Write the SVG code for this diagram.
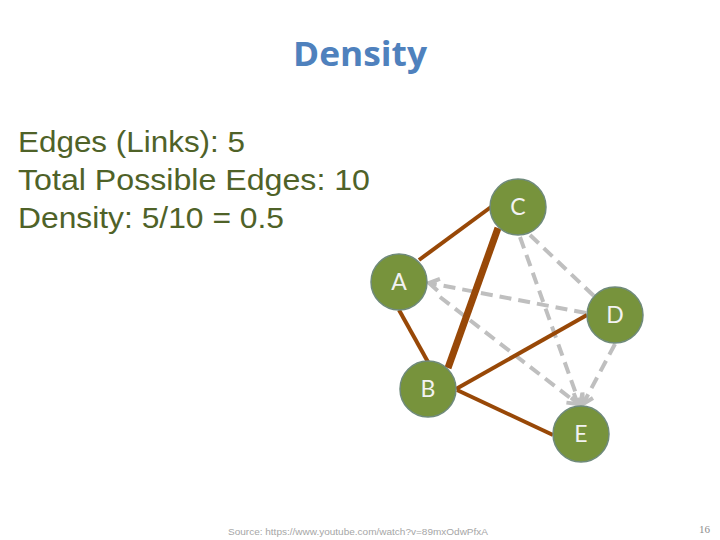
<svg xmlns="http://www.w3.org/2000/svg" width="720" height="540" viewBox="0 0 720 540">
<style>
.title{font-family:"Open Sans","Liberation Sans",sans-serif;font-weight:700;font-size:34px;fill:#4F81BD}
.body{font-family:"Liberation Sans",Arial,sans-serif;font-size:30px;fill:#4F6228}
.node circle{fill:#77933C;stroke:#6F8A7A;stroke-width:1.5}
.node text{font-family:Lato,"Open Sans",sans-serif;font-size:23px;fill:#F2F2F2;text-anchor:middle}
.edge{stroke:#984807;stroke-width:4;fill:none}
.dash{stroke:#BFBFBF;stroke-width:4;stroke-dasharray:12 7;fill:none}
.foot{font-family:"Liberation Sans",Arial,sans-serif;font-size:9.5px;fill:#A6A6A6}
.num{font-family:"Liberation Serif",serif;font-size:11px;fill:#8C8C8C}
</style>
<defs>
<marker id="arr" markerUnits="userSpaceOnUse" markerWidth="16" markerHeight="16" refX="12" refY="8" orient="auto">
<path d="M2,2 L12,8 L2,14" fill="none" stroke="#BFBFBF" stroke-width="4"/>
</marker>
</defs>
<rect width="720" height="540" fill="#FFFFFF"/>
<text class="title" x="360" y="66" text-anchor="middle" textLength="134" lengthAdjust="spacingAndGlyphs">Density</text>
<text class="body" x="18" y="152" textLength="227" lengthAdjust="spacingAndGlyphs">Edges (Links): 5</text>
<text class="body" x="18" y="190" textLength="352" lengthAdjust="spacingAndGlyphs">Total Possible Edges: 10</text>
<text class="body" x="18" y="228" textLength="266" lengthAdjust="spacingAndGlyphs">Density: 5/10 = 0.5</text>
<g id="connectors">
<line class="dash" x1="586" y1="313" x2="429" y2="283" marker-end="url(#arr)"/>
<line class="dash" x1="530" y1="235" x2="594" y2="296"/>
<line class="dash" x1="615" y1="344" x2="583" y2="404" marker-end="url(#arr)"/>
<line class="dash" x1="440" y1="297" x2="578" y2="404" marker-end="url(#arr)"/>
<line class="dash" x1="520" y1="237" x2="580" y2="405" marker-end="url(#arr)"/>
<line class="edge" x1="419" y1="260" x2="491" y2="207"/>
<line class="edge" x1="498" y1="228" x2="448" y2="368" style="stroke-width:7"/>
<line class="edge" x1="399" y1="310" x2="428" y2="362"/>
<line class="edge" x1="456" y1="389" x2="587" y2="315"/>
<line class="edge" x1="457" y1="390" x2="553" y2="435"/>
</g>
<g id="node-C" class="node"><circle cx="518" cy="207" r="28"/><text x="518" y="215">C</text></g>
<g id="node-A" class="node"><circle cx="399" cy="282" r="28"/><text x="399" y="290">A</text></g>
<g id="node-D" class="node"><circle cx="615" cy="315" r="28"/><text x="615" y="323">D</text></g>
<g id="node-B" class="node"><circle cx="428" cy="389" r="28"/><text x="428" y="397">B</text></g>
<g id="node-E" class="node"><circle cx="581" cy="434" r="28"/><text x="581" y="442">E</text></g>
<text class="foot" x="228" y="535" textLength="260" lengthAdjust="spacingAndGlyphs">Source: https://www.youtube.com/watch?v=89mxOdwPfxA</text>
<text class="num" x="699" y="533">16</text>
</svg>
